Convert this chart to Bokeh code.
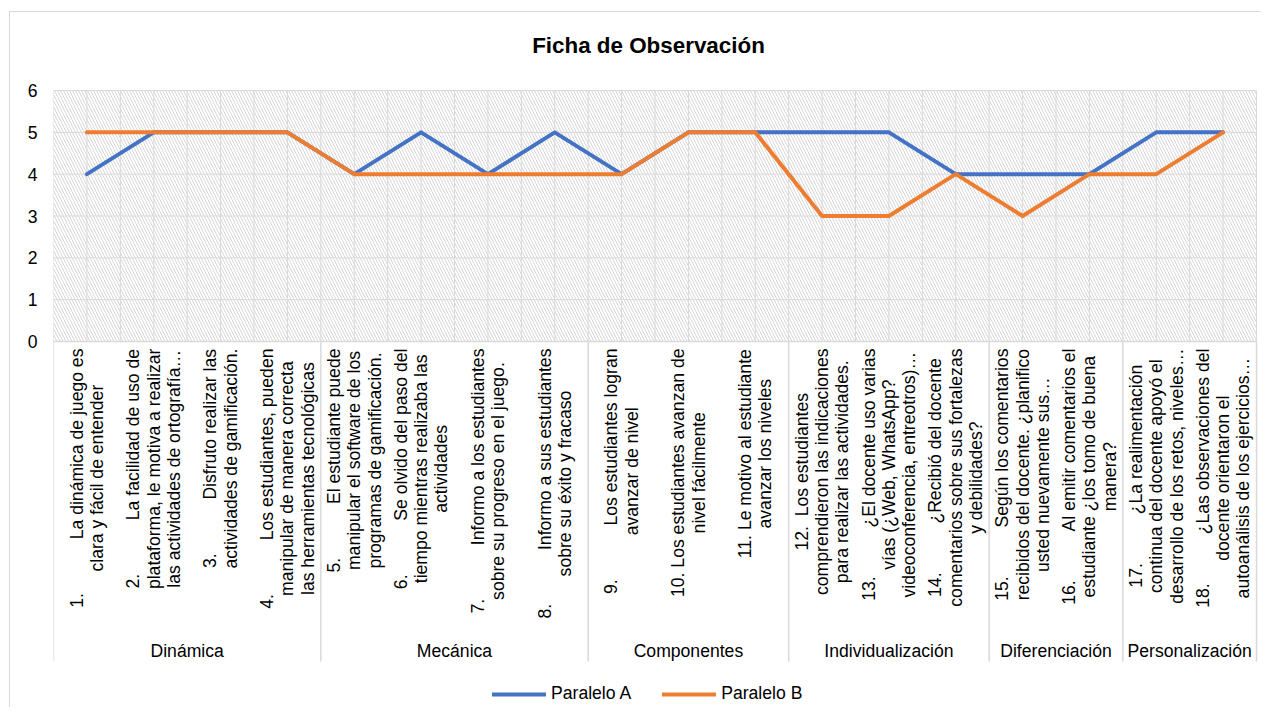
import numpy as np
from bokeh.plotting import figure
from bokeh.models import Range1d, FixedTicker, Legend, LegendItem
from bokeh.embed import file_html
from bokeh.resources import INLINE
from bokeh.core.properties import value

# ---------------- data ----------------
title_text = "Ficha de Observación"
series_names = ["Paralelo A", "Paralelo B"]
paralelo_a = [4, 5, 5, 5, 4, 5, 4, 5, 4, 5, 5, 5, 5, 4, 4, 4, 5, 5]
paralelo_b = [5, 5, 5, 5, 4, 4, 4, 4, 4, 5, 5, 3, 3, 4, 3, 4, 4, 5]
groups = ["Dinámica", "Mecánica", "Componentes", "Individualización",
          "Diferenciación", "Personalización"]
group_sizes = [4, 4, 3, 3, 2, 2]
y_ticks = [0, 1, 2, 3, 4, 5, 6]
NB = "\u00a0"
G1 = NB * 11
G2 = NB * 10
item_labels = [
    ["1." + G1 + "La dinámica de juego es", "clara y fácil de entender"],
    ["2." + G1 + "La facilidad de uso de", "plataforma, le motiva a realizar",
     "las actividades de ortografía…"],
    ["3." + G1 + "Disfruto realizar las", "actividades de gamificación."],
    ["4." + G1 + "Los estudiantes, pueden", "manipular de manera correcta",
     "las herramientas tecnológicas"],
    ["5." + G1 + "El estudiante puede", "manipular el software de los",
     "programas de gamificación."],
    ["6." + G1 + "Se olvido del paso del", "tiempo mientras realizaba las",
     "actividades"],
    ["7." + G1 + "Informo a los estudiantes", "sobre su progreso en el juego."],
    ["8." + G1 + "Informo a sus estudiantes", "sobre su éxito y fracaso"],
    ["9." + G1 + "Los estudiantes logran", "avanzar de nivel"],
    ["10. Los estudiantes avanzan de", "nivel fácilmente"],
    ["11. Le motivo al estudiante", "avanzar los niveles"],
    ["12." + NB * 2 + "Los estudiantes", "comprendieron las indicaciones",
     "para realizar las actividades."],
    ["13." + G2 + "¿El docente uso varias", "vías (¿Web, WhatsApp?",
     "videoconferencia, entreotros)…"],
    ["14." + G2 + "¿Recibió del docente", "comentarios sobre sus fortalezas",
     "y debilidades?"],
    ["15." + G2 + "Según los comentarios", "recibidos del docente. ¿planifico",
     "usted nuevamente sus…"],
    ["16." + G2 + "Al emitir comentarios el", "estudiante ¿los tomo de buena",
     "manera?"],
    ["17." + G2 + "¿La realimentación", "continua del docente apoyó el",
     "desarrollo de los retos, niveles…"],
    ["18." + G2 + "¿Las observaciones del", "docente orientaron el",
     "autoanálisis de los ejercicios…"],
]

# ---------------- layout geometry (pixels) ----------------
FONT = "Liberation Sans"
FS = 17.6            # axis / legend font size (px)
TITLE_FS = 22.4
W, H = 1252, 696
FRAME_LEFT = 43
PXX = 1203.0 / 18    # px per category
PXY = 251.0 / 6      # px per y unit
ZERO_Y = 329         # canvas y of value 0
LINE_SP = 20.3       # line spacing of wrapped labels
LABEL_TOP = 336      # canvas y where rotated labels start
SEP_BOTTOM = 649
GROUP_Y = 638
TITLE_X, TITLE_Y = 638, 33

def ydat(cy):
    return (ZERO_Y - cy) / PXY

def xdat(cx):
    return (cx - FRAME_LEFT) / PXX

# Arial/Liberation Sans advance widths (1/1000 em)
CW = {}
for ch in "abdeghnopqu0123456789áéóúñ?":
    CW[ch] = 556
for ch in "ckvxyzs":
    CW[ch] = 500
for ch in "ft .,í" + NB:
    CW[ch] = 278
for ch in "ijl":
    CW[ch] = 222
for ch in "r()":
    CW[ch] = 333
CW.update({"m": 833, "w": 722, "¿": 611, "…": 1000, "L": 556, "I": 278, "M": 833,
           "W": 944, "O": 778, "G": 778, "F": 611, "T": 611, "J": 500})
for ch in "AESPVBKXY":
    CW[ch] = 667
for ch in "CDHNRU":
    CW[ch] = 722

def text_w(s):
    return sum(CW.get(c, 556) for c in s) * FS / 1000.0

n = len(paralelo_a)
x_cent = [i + 0.5 for i in range(n)]

p = figure(width=W, height=H, output_backend="svg", toolbar_location=None,
           x_range=Range1d(0, (W - FRAME_LEFT) / PXX),
           y_range=Range1d(ydat(H), ydat(0)),
           x_axis_location=None, min_border_left=FRAME_LEFT, min_border_right=0,
           min_border_top=0, min_border_bottom=0,
           background_fill_color="white", border_fill_color="white")
p.outline_line_color = None
p.grid.visible = False
p.styles = {"margin-left": "9px", "margin-top": "11px",
            "border-left": "1px solid #D9D9D9", "border-top": "1px solid #D9D9D9"}

yax = p.yaxis[0]
yax.ticker = FixedTicker(ticks=y_ticks)
yax.axis_line_color = None
yax.major_tick_line_color = None
yax.minor_tick_line_color = None
yax.major_label_standoff = 10
yax.major_label_text_font = FONT
yax.major_label_text_font_size = f"{FS}px"
yax.major_label_text_color = "#000000"

# hatched plot area
p.quad(left=[0], right=[n], bottom=[y_ticks[0]], top=[y_ticks[-1]],
       fill_color="white", line_color=None,
       hatch_pattern="left_diagonal_line", hatch_color="#D6D6D6",
       hatch_scale=6, hatch_weight=1)

# grid lines
gx = np.arange(0, n + 0.01, 0.5)
p.segment(x0=gx, x1=gx, y0=[y_ticks[0]] * len(gx), y1=[y_ticks[-1]] * len(gx),
          line_color="#D9D9D9", line_width=1)
p.segment(x0=[0] * len(y_ticks), x1=[n] * len(y_ticks), y0=y_ticks, y1=y_ticks,
          line_color="#D9D9D9", line_width=1)

# group separators
bounds = np.concatenate([[0], np.cumsum(group_sizes)])
p.segment(x0=bounds, x1=bounds, y0=[0] * len(bounds), y1=[ydat(SEP_BOTTOM)] * len(bounds),
          line_color="#D9D9D9", line_width=1.5)
p.segment(x0=[0], x1=[n], y0=[0], y1=[0], line_color="#D9D9D9", line_width=1.5)

# group labels
gc = [(bounds[i] + bounds[i + 1]) / 2 for i in range(len(groups))]
p.text(x=gc, y=[ydat(GROUP_Y)] * len(gc), text=groups, text_align="center",
       text_baseline="middle", text_font=value(FONT), text_font_size=value(f"{FS}px"),
       text_color="#000000")

# rotated category labels
lx, ly, lt = [], [], []
for i, lines in enumerate(item_labels):
    k = len(lines)
    maxw = max(text_w(s) for s in lines)
    yc = ydat(LABEL_TOP + maxw / 2)
    for j, s in enumerate(lines):
        lx.append(x_cent[i] + (j - (k - 1) / 2) * LINE_SP / PXX)
        ly.append(yc)
        lt.append(s)
p.text(x=lx, y=ly, text=lt, angle=np.pi / 2, text_align="center", text_baseline="middle",
       text_font=value(FONT), text_font_size=value(f"{FS}px"), text_color="#000000")

# title
p.text(x=[xdat(TITLE_X)], y=[ydat(TITLE_Y)], text=[title_text], text_align="center",
       text_baseline="middle", text_font=value(FONT), text_font_size=value(f"{TITLE_FS}px"),
       text_font_style="bold", text_color="#000000")

# series
ra = p.line(x_cent, paralelo_a, line_color="#4472C4", line_width=4,
            line_join="round", line_cap="round")
rb = p.line(x_cent, paralelo_b, line_color="#ED7D31", line_width=4,
            line_join="round", line_cap="round")

legend = Legend(items=[LegendItem(label=series_names[0], renderers=[ra]),
                       LegendItem(label=series_names[1], renderers=[rb])],
                location=(439, 4), orientation="horizontal",
                glyph_width=54, glyph_height=20, label_height=20, label_standoff=5,
                spacing=31, padding=0, margin=0,
                label_text_font=FONT, label_text_font_size=f"{FS}px",
                label_text_color="#000000",
                border_line_color=None, background_fill_alpha=0)
p.add_layout(legend)

open("out.html", "w").write(file_html(p, INLINE))
